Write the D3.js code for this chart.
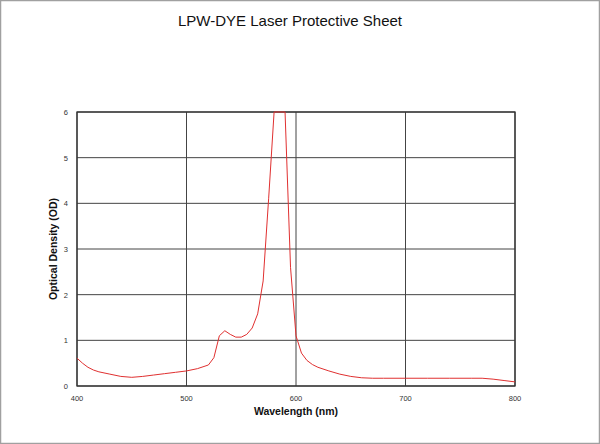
<!DOCTYPE html>
<html>
<head>
<meta charset="utf-8">
<script src="https://cdn.jsdelivr.net/npm/d3@7"></script>
<style>
  body { margin: 0; background: #fff; }
  svg { display: block; font-family: "Liberation Sans", Arial, sans-serif; }
</style>
</head>
<body>
<div id="chart"></div>
<script>
// spectrum (values above 6 are clipped by the axis)
const wavelengths = [400, 405, 410, 415, 420, 430, 440, 450, 460, 470, 480, 490, 500, 510, 520, 525,
  530, 535, 540, 545, 550, 555, 560, 565, 570, 575, 580, 585, 590, 595, 600, 605, 610, 615, 620,
  630, 640, 650, 660, 670, 680, 700, 720, 740, 760, 770, 780, 790, 800];
const density = [0.61, 0.50, 0.41, 0.35, 0.31, 0.26, 0.21, 0.19, 0.21, 0.24, 0.27, 0.30, 0.33, 0.38, 0.46, 0.62,
  1.10, 1.21, 1.13, 1.07, 1.07, 1.13, 1.27, 1.58, 2.30, 4.10, 6.00, 6.50, 6.00, 2.60, 1.10, 0.72, 0.56, 0.47, 0.41,
  0.33, 0.26, 0.21, 0.18, 0.17, 0.17, 0.17, 0.17, 0.17, 0.17, 0.17, 0.15, 0.12, 0.09];
const xTicks = [400, 500, 600, 700, 800];
const yTicks = [0, 1, 2, 3, 4, 5, 6];

const width = 600, height = 444;
const margin = {top: 112, right: 85, bottom: 58, left: 77};

const svg = d3.select("#chart").append("svg")
  .attr("width", width)
  .attr("height", height);

// outer frame of the picture
svg.append("rect")
  .attr("x", 0.5).attr("y", 0.5)
  .attr("width", width - 1).attr("height", height - 1)
  .attr("fill", "#fff")
  .attr("stroke", "#a0a0a0")
  .attr("stroke-width", 1.5);

const x = d3.scaleLinear().domain([400, 800]).range([margin.left, width - margin.right]);
const y = d3.scaleLinear().domain([0, 6]).range([height - margin.bottom, margin.top]).clamp(true);

// grid
svg.append("g")
  .selectAll("line")
  .data(yTicks)
  .join("line")
  .attr("x1", x(400)).attr("x2", x(800))
  .attr("y1", d => y(d)).attr("y2", d => y(d))
  .attr("stroke", "#444").attr("stroke-width", 1);

svg.append("g")
  .selectAll("line")
  .data(xTicks)
  .join("line")
  .attr("x1", d => x(d)).attr("x2", d => x(d))
  .attr("y1", y(0)).attr("y2", y(6))
  .attr("stroke", "#444").attr("stroke-width", 1);

// plot frame
svg.append("rect")
  .attr("x", x(400)).attr("y", y(6))
  .attr("width", x(800) - x(400)).attr("height", y(0) - y(6))
  .attr("fill", "none")
  .attr("stroke", "#333").attr("stroke-width", 1.3);

// tick labels
svg.append("g")
  .selectAll("text")
  .data(yTicks)
  .join("text")
  .attr("x", x(400) - 9)
  .attr("y", d => y(d) + 3)
  .attr("text-anchor", "end")
  .attr("font-size", 7.5)
  .attr("fill", "#333")
  .text(d => d);

svg.append("g")
  .selectAll("text")
  .data(xTicks)
  .join("text")
  .attr("x", d => x(d))
  .attr("y", y(0) + 15)
  .attr("text-anchor", "middle")
  .attr("font-size", 7.5)
  .attr("fill", "#333")
  .text(d => d);

// the curve
const data = wavelengths.map((w, i) => ({w: w, od: density[i]}));
const line = d3.line()
  .x(d => x(d.w))
  .y(d => y(d.od));

svg.append("path")
  .datum(data)
  .attr("d", line)
  .attr("fill", "none")
  .attr("stroke", "#e03030")
  .attr("stroke-width", 1)
  .attr("stroke-linejoin", "round");

// titles
svg.append("text")
  .attr("x", 290).attr("y", 26)
  .attr("text-anchor", "middle")
  .attr("font-size", 15)
  .attr("fill", "#111")
  .text("LPW-DYE Laser Protective Sheet");

svg.append("text")
  .attr("x", (x(400) + x(800)) / 2).attr("y", 415)
  .attr("text-anchor", "middle")
  .attr("font-size", 10.5)
  .attr("font-weight", "bold")
  .attr("fill", "#111")
  .text("Wavelength (nm)");

svg.append("text")
  .attr("transform", "translate(57," + (y(3)) + ") rotate(-90)")
  .attr("text-anchor", "middle")
  .attr("font-size", 10.5)
  .attr("font-weight", "bold")
  .attr("fill", "#111")
  .text("Optical Density (OD)");
</script>
</body>
</html>
